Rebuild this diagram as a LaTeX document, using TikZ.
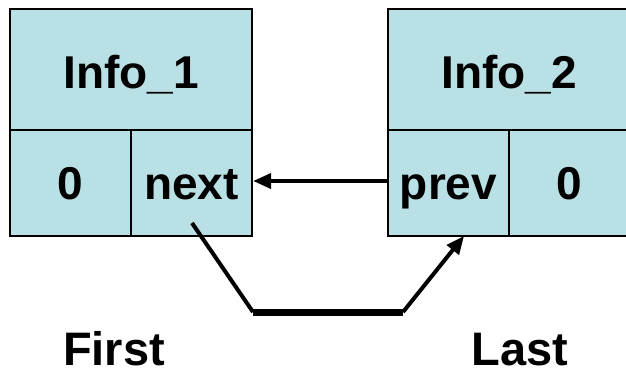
\documentclass[tikz,border=0pt]{standalone}
\usepackage{fontspec}
\setmainfont{Liberation Sans}
\usetikzlibrary{arrows.meta}
\definecolor{cellfill}{HTML}{B9E0E4}
\tikzset{
  cell/.style={draw=black, line width=1.3bp, fill=cellfill, inner sep=0pt,
    font=\fontsize{46bp}{50bp}\selectfont\bfseries, text depth=0pt},
  head/.style={cell, minimum width=242bp, minimum height=121bp, text height=37bp},
  field/.style={cell, minimum width=121bp, minimum height=106bp, text height=33bp},
  caption/.style={font=\fontsize{47bp}{50bp}\selectfont\bfseries, anchor=base, inner sep=0pt},
  link/.style={line width=4bp},
  tip/.style={-{Triangle[length=18bp,width=15bp]}}
}
\begin{document}
\begin{tikzpicture}[x=1bp, y=-1bp]
  \useasboundingbox (0,0) rectangle (626,372);
  % first list element
  \node[head]  (info1) at (131,69.5)  {Info\_1};
  \node[field] (zero1) at (70.5,183)  {0};
  \node[field] (next1) at (191.5,183) {next};
  % second list element (runs past the right edge)
  \node[head]  (info2) at (509,69.5)  {Info\_2};
  \node[field] (prev2) at (448.5,183) {prev};
  \node[field] (zero2) at (569.5,183) {0};
  % back link prev -> next
  \draw[link, tip] ([yshift=2bp]prev2.west) -- ([yshift=2bp,xshift=0.5bp]next1.east);
  % forward link next -> prev
  \coordinate (from) at (192,223);
  \coordinate (bendA) at (253,312);
  \coordinate (bendB) at (403,312);
  \coordinate (to) at (464,236);
  \draw[link] (from) -- (bendA);
  \draw[line width=7bp] (bendA) -- (bendB);
  \draw[link, tip] (bendB) -- (to);
  % pointer names
  \node[caption] (first) at (114,365) {First};
  \node[caption] (last)  at (520,365) {Last};
\end{tikzpicture}
\end{document}
